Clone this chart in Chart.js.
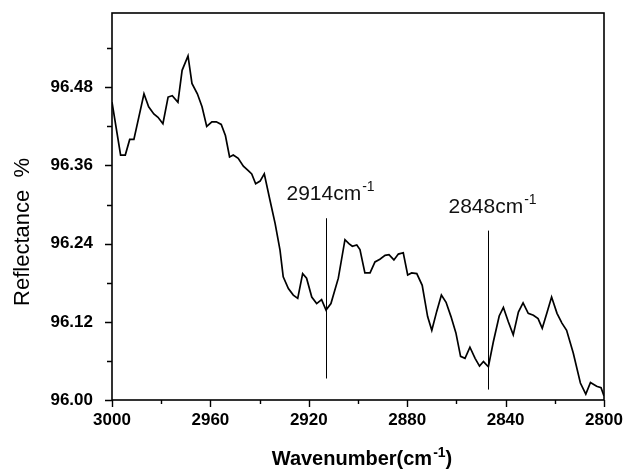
<!DOCTYPE html>
<html>
<head>
<meta charset="utf-8">
<script src="https://cdn.jsdelivr.net/npm/chart.js@4/dist/chart.umd.min.js"></script>
<style>
  html, body { margin: 0; padding: 0; background: #fff; }
  #wrap { width: 633px; height: 471px; }
</style>
</head>
<body>
<div id="wrap"><canvas id="chart" width="633" height="471"></canvas></div>
<script>
// spectrum (wavenumber in cm-1, reflectance in %)
var wavenumbers = [3000.0, 2996.5, 2994.6, 2992.8, 2991.1, 2987.0, 2985.1, 2983.0, 2981.3, 2979.3,
    2977.2, 2975.5, 2973.2, 2971.5, 2969.1, 2967.5, 2965.3, 2963.4, 2961.5, 2959.4,
    2957.6, 2955.6, 2953.9, 2952.2, 2950.7, 2948.7, 2946.6, 2944.6, 2943.2, 2941.6,
    2939.8, 2938.1, 2935.8, 2933.7, 2931.7, 2930.4, 2928.3, 2926.3, 2924.5, 2922.5,
    2920.9, 2918.8, 2916.8, 2914.8, 2913.0, 2911.0, 2908.0, 2905.3, 2903.7, 2902.3,
    2900.5, 2899.2, 2897.2, 2895.1, 2893.1, 2891.1, 2889.0, 2887.4, 2885.4, 2883.6,
    2881.6, 2879.8, 2878.2, 2876.1, 2873.9, 2871.7, 2870.0, 2868.0, 2866.1, 2864.2,
    2862.2, 2860.2, 2858.3, 2856.5, 2854.5, 2852.4, 2850.6, 2849.0, 2847.0, 2845.0,
    2842.6, 2840.9, 2838.9, 2836.9, 2834.8, 2832.9, 2830.8, 2828.7, 2826.8, 2825.1,
    2823.1, 2821.3, 2819.1, 2817.1, 2815.2, 2812.5, 2809.6, 2807.4, 2805.5, 2803.0,
    2801.2, 2800.0];
var reflectance = [96.457, 96.376, 96.376, 96.400, 96.400, 96.470, 96.450, 96.439, 96.434, 96.424,
    96.465, 96.467, 96.457, 96.506, 96.528, 96.486, 96.470, 96.450, 96.420, 96.427,
    96.427, 96.423, 96.406, 96.373, 96.376, 96.371, 96.359, 96.352, 96.347, 96.332,
    96.336, 96.347, 96.307, 96.271, 96.230, 96.189, 96.171, 96.161, 96.156, 96.194,
    96.187, 96.158, 96.148, 96.154, 96.138, 96.148, 96.187, 96.246, 96.240, 96.236,
    96.238, 96.231, 96.195, 96.195, 96.212, 96.216, 96.222, 96.223, 96.215, 96.224,
    96.226, 96.192, 96.195, 96.194, 96.176, 96.128, 96.107, 96.136, 96.161, 96.150,
    96.128, 96.103, 96.067, 96.064, 96.081, 96.064, 96.052, 96.059, 96.051, 96.089,
    96.129, 96.142, 96.120, 96.100, 96.135, 96.149, 96.133, 96.130, 96.125, 96.110,
    96.135, 96.158, 96.133, 96.118, 96.107, 96.072, 96.026, 96.009, 96.027, 96.021,
    96.019, 96.006];

// axis ticks: every other one carries a label
var xTicks = [3000, 2980, 2960, 2940, 2920, 2900, 2880, 2860, 2840, 2820, 2800];
var yTicks = [96.00, 96.06, 96.12, 96.18, 96.24, 96.30, 96.36, 96.42, 96.48, 96.54];

// marked bands
var peakPositions = [2913, 2847];
var peakLabels = ["2914", "2848"];
var peakTop = [96.279, 96.260];
var peakBottom = [96.033, 96.016];

var FONT = '"Liberation Sans", Arial, sans-serif';

/* text with a raised "-1" after it, starting at x */
function drawWithSup(ctx, x, y, main, sup, tail, size, supSize, weight) {
    ctx.font = weight + " " + size + "px " + FONT;
    ctx.fillText(main, x, y);
    x += ctx.measureText(main).width;
    ctx.font = weight + " " + supSize + "px " + FONT;
    ctx.fillText(sup, x + 1, y - size * 0.42);
    x += ctx.measureText(sup).width + 1;
    if (tail) {
        ctx.font = weight + " " + size + "px " + FONT;
        ctx.fillText(tail, x, y);
    }
}
function widthWithSup(ctx, main, sup, tail, size, supSize, weight) {
    ctx.font = weight + " " + size + "px " + FONT;
    var w = ctx.measureText(main).width + ctx.measureText(tail).width;
    ctx.font = weight + " " + supSize + "px " + FONT;
    return w + ctx.measureText(sup).width + 1;
}

var framePlugin = {
    id: "frame",
    afterDraw: function (chart) {
        var ctx = chart.ctx, a = chart.chartArea;
        var xs = chart.scales.x, ys = chart.scales.y;
        ctx.save();
        ctx.strokeStyle = "#000";
        ctx.lineWidth = 1.6;
        ctx.strokeRect(a.left, a.top, a.right - a.left, a.bottom - a.top);

        // outward tick marks, long for labelled ones
        ctx.beginPath();
        xTicks.forEach(function (v, i) {
            var px = Math.round(xs.getPixelForValue(v)) + 0.5;
            ctx.moveTo(px, a.bottom);
            ctx.lineTo(px, a.bottom + (i % 2 === 0 ? 7 : 4));
        });
        yTicks.forEach(function (v, i) {
            var py = Math.round(ys.getPixelForValue(v)) + 0.5;
            ctx.moveTo(a.left, py);
            ctx.lineTo(a.left - (i % 2 === 0 ? 7 : 5), py);
        });
        ctx.lineWidth = 1.4;
        ctx.stroke();

        // band markers
        ctx.fillStyle = "#111";
        ctx.textAlign = "left";
        ctx.textBaseline = "alphabetic";
        peakPositions.forEach(function (p, i) {
            var px = Math.round(xs.getPixelForValue(p)) + 0.5;
            var top = ys.getPixelForValue(peakTop[i]);
            ctx.beginPath();
            ctx.moveTo(px, top);
            ctx.lineTo(px, ys.getPixelForValue(peakBottom[i]));
            ctx.lineWidth = 1;
            ctx.stroke();
            drawWithSup(ctx, px - 40, top - 18, peakLabels[i] + "cm", "-1", "", 21, 14, "normal");
        });

        // axis titles
        ctx.fillStyle = "#000";
        var w = widthWithSup(ctx, "Wavenumber(cm", "-1", ")", 20, 14, "bold");
        drawWithSup(ctx, 362 - w / 2, 465, "Wavenumber(cm", "-1", ")", 20, 14, "bold");

        ctx.translate(23, 232);
        ctx.rotate(-Math.PI / 2);
        ctx.textAlign = "center";
        ctx.textBaseline = "middle";
        ctx.font = "normal 22px " + FONT;
        ctx.fillText("Reflectance  %", 0, 0);
        ctx.restore();
    }
};

var points = wavenumbers.map(function (w, i) {
    return { x: w, y: reflectance[i] };
});

new Chart(document.getElementById("chart"), {
    type: "line",
    data: {
        datasets: [{
            data: points,
            borderColor: "#000",
            borderWidth: 1.7,
            pointRadius: 0,
            tension: 0,
            fill: false
        }]
    },
    options: {
        responsive: false,
        animation: false,
        devicePixelRatio: 1,
        layout: { padding: { top: 13, right: 29, left: 0, bottom: 0 } },
        plugins: { legend: { display: false }, tooltip: { enabled: false } },
        scales: {
            x: {
                type: "linear",
                reverse: true,
                min: 2800,
                max: 3000,
                afterBuildTicks: function (scale) {
                    scale.ticks = xTicks.map(function (v) { return { value: v }; });
                },
                afterFit: function (scale) {
                    scale.height = 71;
                    scale.paddingLeft = 0;
                    scale.paddingRight = 0;
                },
                grid: { display: false, drawTicks: false },
                border: { display: false },
                ticks: {
                    autoSkip: false,
                    maxRotation: 0,
                    padding: 10,
                    color: "#000",
                    font: { family: FONT, size: 17, weight: "bold" },
                    callback: function (v) { return v % 40 === 0 ? String(v) : ""; }
                }
            },
            y: {
                type: "linear",
                min: 96.0,
                max: 96.594,
                afterBuildTicks: function (scale) {
                    scale.ticks = yTicks.map(function (v) { return { value: v }; });
                },
                afterFit: function (scale) {
                    scale.width = 112;
                    scale.paddingTop = 0;
                    scale.paddingBottom = 0;
                },
                grid: { display: false, drawTicks: false },
                border: { display: false },
                ticks: {
                    autoSkip: false,
                    padding: 19,
                    color: "#000",
                    font: { family: FONT, size: 17, weight: "bold" },
                    callback: function (v) {
                        return Math.round((v - 96) / 0.06) % 2 === 0 ? v.toFixed(2) : "";
                    }
                }
            }
        }
    },
    plugins: [framePlugin]
});
</script>
</body>
</html>
